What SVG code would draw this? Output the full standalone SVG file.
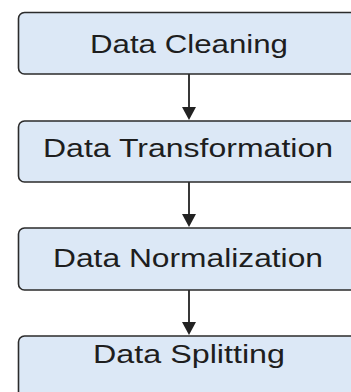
<svg xmlns="http://www.w3.org/2000/svg" width="351" height="392" viewBox="0 0 351 392">
<defs>
<style>
.box{fill:#dce8f6;stroke:#2b2b2b;stroke-width:1.6}
.lbl{font-family:"Liberation Sans",Arial,sans-serif;font-size:25px;fill:#1e1e1e;text-anchor:middle}
.conn{stroke:#222;stroke-width:1.8;fill:none}
</style>
<marker id="arr" viewBox="0 0 10 10" refX="10" refY="5" markerWidth="8" markerHeight="7" markerUnits="userSpaceOnUse" orient="auto">
<path d="M0,0 L10,5 L0,10 Z" fill="#222"/>
</marker>
</defs>
<rect width="351" height="392" fill="#fff"/>
<g id="connectors">
<line class="conn" x1="189" y1="74" x2="189" y2="108"/>
<path d="M182,107 L196,107 L189,120 Z" fill="#222"/>
<line class="conn" x1="189" y1="182" x2="189" y2="215"/>
<path d="M182,214 L196,214 L189,227 Z" fill="#222"/>
<line class="conn" x1="189" y1="290" x2="189" y2="323"/>
<path d="M182,322 L196,322 L189,335 Z" fill="#222"/>
</g>
<g id="n1">
<rect class="box" x="18.5" y="12.5" width="360" height="61.5" rx="6"/>
<text class="lbl" x="189" y="53" textLength="198" lengthAdjust="spacingAndGlyphs">Data Cleaning</text>
</g>
<g id="n2">
<rect class="box" x="18.5" y="121" width="360" height="61" rx="6"/>
<text class="lbl" x="188" y="157" textLength="290" lengthAdjust="spacingAndGlyphs">Data Transformation</text>
</g>
<g id="n3">
<rect class="box" x="18.5" y="228" width="360" height="62" rx="6"/>
<text class="lbl" x="188" y="267" textLength="270" lengthAdjust="spacingAndGlyphs">Data Normalization</text>
</g>
<g id="n4">
<rect class="box" x="18.5" y="336" width="360" height="80" rx="6"/>
<text class="lbl" x="189" y="363" textLength="192" lengthAdjust="spacingAndGlyphs">Data Splitting</text>
</g>
</svg>
